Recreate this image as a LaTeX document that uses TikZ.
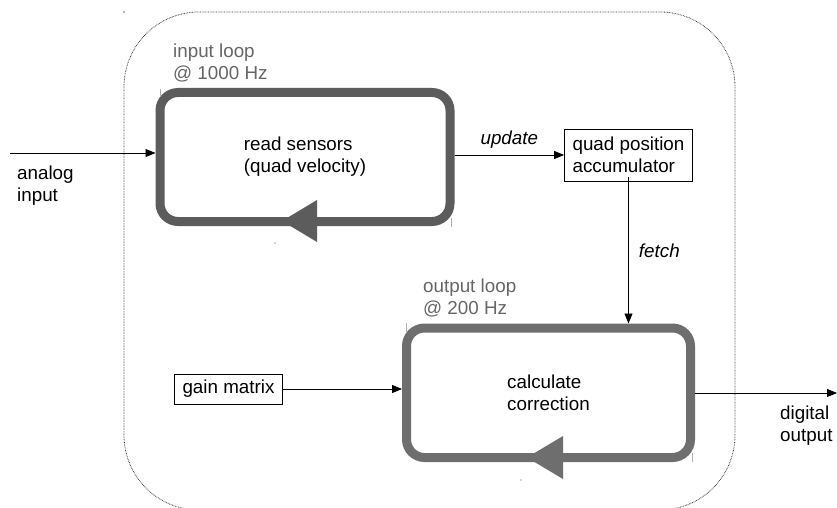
\documentclass[tikz,border=0pt]{standalone}
\usepackage{fontspec}
\setmainfont{Liberation Sans}
\usetikzlibrary{arrows.meta}
\definecolor{loopA}{HTML}{5C5C5C}
\definecolor{loopB}{HTML}{6E6E6E}
\definecolor{lbl}{HTML}{666666}
\definecolor{tick}{HTML}{B0B0B0}
\tikzset{
  txt/.style={font=\fontsize{18.8pt}{22pt}\selectfont, inner sep=0pt, align=left},
  loopbox/.style={draw, rounded corners=18pt, line width=9pt, inner sep=0pt, txt},
  plainbox/.style={draw, line width=0.9pt, txt, inner xsep=8pt},
  arr/.style={line width=0.9pt, -{Triangle[length=10pt,width=8pt]}},
  looplbl/.style={txt, text=lbl, anchor=north west},
  marker/.style={draw=tick, line width=0.8pt},
}
\begin{document}
\begin{tikzpicture}[x=1pt,y=-1pt]
\useasboundingbox (0,0) rectangle (837,508);
\fill[white] (0,0) rectangle (837,508);
% outer dotted region
\draw[dash pattern=on 0.7pt off 0.9pt, line width=0.8pt, black!80, rounded corners=75pt] (124,12) rectangle (735,510);
% loops
\node[loopbox, draw=loopA, minimum width=290pt, minimum height=129pt] (inloop) at (305,157) {read sensors\\(quad velocity)};
\node[loopbox, draw=loopB, minimum width=284pt, minimum height=129.5pt] (outloop) at (548.5,392.75) {calculate\\correction};
\fill[loopA] (282,221) -- (317,200) -- (317,242) -- cycle;
\fill[loopB] (527,457.5) -- (563,436) -- (563,479) -- cycle;
% loop labels
\node[looplbl] (inlbl) at (173,43.5) {input loop\\@ 1000 Hz};
\node[looplbl] (outlbl) at (423,278.5) {output loop\\@ 200 Hz};
% boxes
\node[plainbox, minimum height=52pt] (quad) at (628.5,155) {quad position\\accumulator};
\node[plainbox, minimum height=30pt] (gain) at (228.5,389) {gain matrix};
% connectors
\coordinate (ain) at (10,153);
\draw[arr] (ain) -- (ain -| inloop.west);
\node[txt, anchor=north west] (ainlbl) at (17,166) {analog\\input};
\draw[arr] (inloop.east |- quad.west) -- node[txt, above=6pt, font=\fontsize{18.8pt}{22pt}\selectfont\itshape] (upd) {update} (quad.west);
\coordinate (fstart) at ([yshift=4pt]quad.south);
\draw[arr] (fstart) -- node[txt, right=10pt, pos=0.5, font=\fontsize{18.8pt}{22pt}\selectfont\itshape] (fet) {fetch} (fstart |- outloop.north);
\draw[arr] (gain.east) -- (gain.east -| outloop.west);
\coordinate (dout) at (837,393);
\draw[arr] (outloop.east |- dout) -- (dout);
\node[txt, anchor=north west] (doutlbl) at (780,406) {digital\\output};
% small selection marks
\draw[marker] (160,89) -- (160,97);
\draw[marker] (451,218) -- (451,227);
\draw[marker] (406.5,323) -- (406.5,332);
\draw[marker] (692,453) -- (692,462);
\fill[black!60] (124,12) circle (0.8pt);
\fill[tick] (275,243) circle (0.8pt);
\fill[tick] (521,480) circle (0.8pt);
\end{tikzpicture}
\end{document}
